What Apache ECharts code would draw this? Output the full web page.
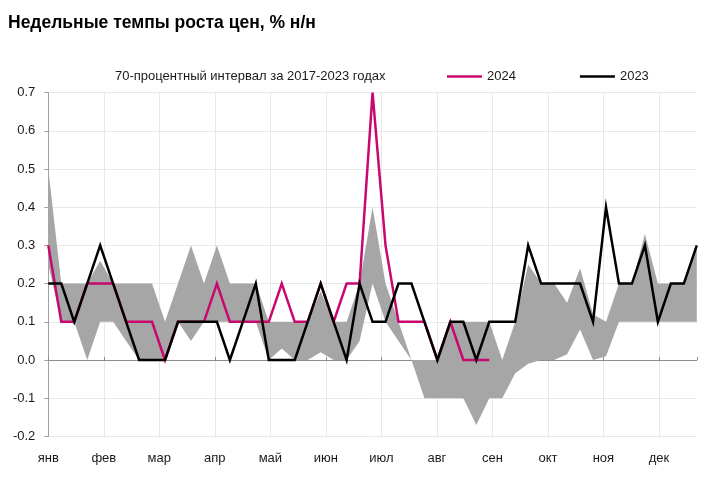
<!DOCTYPE html>
<html>
<head>
<meta charset="utf-8">
<script src="https://cdn.jsdelivr.net/npm/echarts@6/dist/echarts.min.js"></script>
<style>
html,body{margin:0;padding:0;background:#fff;}
#chart{width:716px;height:504px;}
</style>
</head>
<body>
<div id="chart"></div>
<script>
const months = ['янв','фев','мар','апр','май','июн','июл','авг','сен','окт','ноя','дек'];
const yTicks = [-0.2,-0.1,0.0,0.1,0.2,0.3,0.4,0.5,0.6,0.7];

const series2023 = [0.2,0.2,0.1,0.2,0.3,0.2,0.1,0.0,0.0,0.0,
  0.1,0.1,0.1,0.1,0.0,0.1,0.2,0.0,0.0,0.0,
  0.1,0.2,0.1,0.0,0.2,0.1,0.1,0.2,0.2,0.1,
  0.0,0.1,0.1,0.0,0.1,0.1,0.1,0.3,0.2,0.2,
  0.2,0.2,0.1,0.4,0.2,0.2,0.3,0.1,0.2,0.2,0.3];

const series2024 = [0.3,0.1,0.1,0.2,0.2,0.2,0.1,0.1,0.1,0.0,
  0.1,0.1,0.1,0.2,0.1,0.1,0.1,0.1,0.2,0.1,
  0.1,0.2,0.1,0.2,0.2,0.7,0.3,0.1,0.1,0.1,
  0.0,0.1,0.0,0.0,0.0];

const bandLower = [0.25,0.1,0.1,0.0,0.1,0.1,0.05,0.0,0.0,0.0,
  0.1,0.05,0.1,0.1,0.1,0.1,0.1,0.0,0.03,0.0,
  0.0,0.02,0.0,0.0,0.05,0.2,0.1,0.05,0.0,-0.1,
  -0.1,-0.1,-0.1,-0.17,-0.1,-0.1,-0.035,-0.01,0.0,0.0,
  0.015,0.08,0.0,0.01,0.1,0.1,0.1,0.1,0.1,0.1,0.1];

const bandUpper = [0.5,0.2,0.2,0.2,0.26,0.2,0.2,0.2,0.2,0.1,
  0.2,0.3,0.2,0.3,0.2,0.2,0.2,0.1,0.1,0.1,
  0.1,0.18,0.1,0.1,0.2,0.4,0.2,0.1,0.0,0.0,
  0.0,0.1,0.1,0.1,0.1,0.0,0.1,0.25,0.2,0.2,
  0.15,0.24,0.12,0.1,0.2,0.2,0.33,0.2,0.2,0.2,0.3];

const bandName = '70-процентный интервал за 2017-2023 годах';
const FONT = '"Liberation Sans", Arial, sans-serif';
const MONTH_STEP = 4.28; // weeks per month slot on the axis
const LAST_WEEK = 50;

const pairs = arr => arr.map((v, i) => [i, v]);
const bandData = bandUpper.map((u, i) => [i, bandLower[i], u]);

const monthLabel = v => {
  const m = v / MONTH_STEP;
  const r = Math.round(m);
  return (Math.abs(m - r) < 0.01 && r >= 0 && r < 12) ? months[r] : '';
};

function renderBand(params, api) {
  if (params.dataIndex !== 0) return null;
  const pts = [];
  for (let i = 0; i < bandUpper.length; i++) pts.push(api.coord([i, bandUpper[i]]));
  for (let i = bandLower.length - 1; i >= 0; i--) pts.push(api.coord([i, bandLower[i]]));
  return {
    type: 'polygon',
    shape: {points: pts},
    style: {fill: '#a6a6a6', stroke: null}
  };
}

const chart = echarts.init(document.getElementById('chart'), null, {renderer: 'canvas'});
chart.setOption({
  backgroundColor: '#ffffff',
  animation: false,
  textStyle: {fontFamily: FONT},
  title: {
    text: 'Недельные темпы роста цен, % н/н',
    left: 3, top: 9,
    textStyle: {fontSize: 17.5, fontWeight: 'bold', color: '#000', fontFamily: FONT}
  },
  legend: [
    {
      top: 65, left: 70,
      itemWidth: 35, itemHeight: 2.5, icon: 'rect',
      textStyle: {fontSize: 13, color: '#1a1a1a', fontFamily: FONT},
      data: [{name: bandName, itemStyle: {color: 'rgba(0,0,0,0)'}}]
    },
    {
      top: 65, left: 442,
      itemWidth: 35, itemHeight: 2.5, itemGap: 64, icon: 'rect',
      textStyle: {fontSize: 13, color: '#1a1a1a', fontFamily: FONT},
      data: ['2024', '2023']
    }
  ],
  grid: {left: 48.3, right: 19.2, top: 92.6, bottom: 67.6, containLabel: false},
  xAxis: [
    {
      type: 'value', min: 0, max: LAST_WEEK, interval: MONTH_STEP,
      position: 'bottom',
      axisLine: {show: false, onZero: false},
      axisTick: {show: false},
      axisLabel: {
        show: true, margin: 16, fontSize: 13, color: '#1a1a1a', fontFamily: FONT,
        showMaxLabel: false, formatter: monthLabel
      },
      splitLine: {show: true, showMinLine: false, showMaxLine: false, lineStyle: {color: '#e8e8e8', width: 1}}
    },
    {
      type: 'value', min: 0, max: LAST_WEEK, interval: MONTH_STEP,
      position: 'bottom',
      axisLine: {show: true, onZero: true, lineStyle: {color: '#8c8c8c', width: 1}},
      axisTick: {show: true, inside: true, length: 3, lineStyle: {color: '#8c8c8c'}},
      axisLabel: {show: false},
      splitLine: {show: false}
    }
  ],
  yAxis: {
    type: 'value', min: -0.2, max: 0.7, interval: 0.1,
    axisLine: {show: true, onZero: false, lineStyle: {color: '#a0a0a0', width: 1}},
    axisTick: {show: true, inside: false, length: 4, lineStyle: {color: '#a0a0a0'}},
    axisLabel: {
      margin: 13, fontSize: 13, color: '#1a1a1a', fontFamily: FONT,
      formatter: v => {
        const t = yTicks.find(y => Math.abs(y - v) < 1e-6);
        return t === undefined ? '' : t.toFixed(1);
      }
    },
    splitLine: {show: true, lineStyle: {color: '#e8e8e8', width: 1}}
  },
  series: [
    {
      name: bandName, type: 'custom', xAxisIndex: 0,
      renderItem: renderBand,
      data: bandData,
      encode: {x: 0, y: [1, 2]},
      itemStyle: {color: 'rgba(0,0,0,0)'},
      silent: true, z: 1
    },
    {
      name: '2024', type: 'line', xAxisIndex: 0,
      data: pairs(series2024), symbol: 'none',
      lineStyle: {color: '#c8086e', width: 2.5, join: 'miter'},
      itemStyle: {color: '#c8086e'}, z: 3
    },
    {
      name: '2023', type: 'line', xAxisIndex: 0,
      data: pairs(series2023), symbol: 'none',
      lineStyle: {color: '#000000', width: 2.5, join: 'miter'},
      itemStyle: {color: '#000000'}, z: 4
    }
  ]
});
</script>
</body>
</html>
